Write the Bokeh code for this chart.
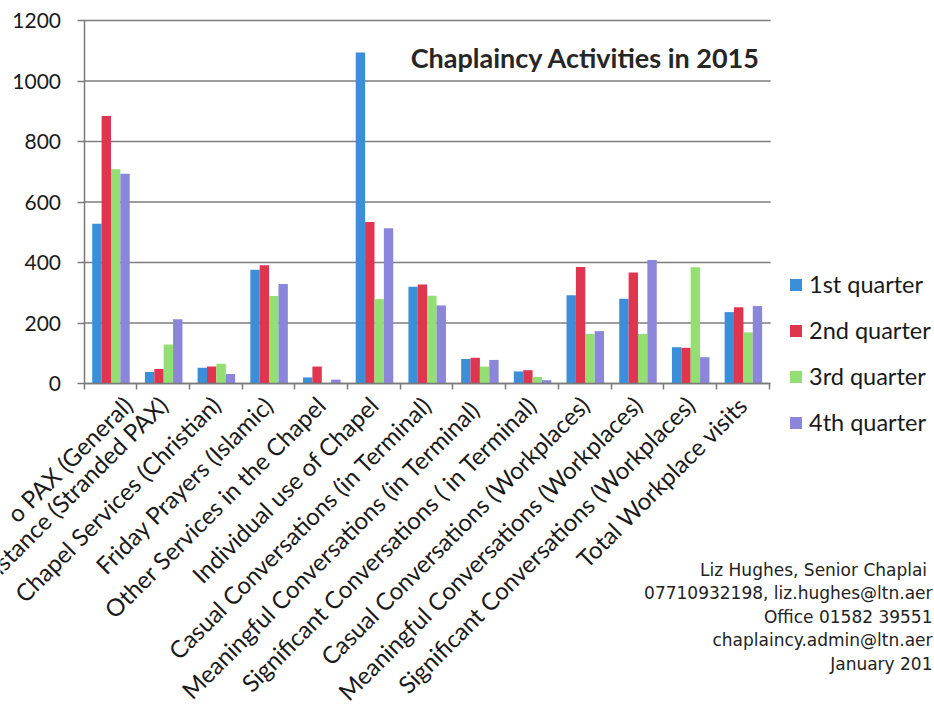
import math
from bokeh.plotting import figure
from bokeh.models import (ColumnDataSource, Range1d, FixedTicker, Legend, LegendItem, Label)
from bokeh.transform import dodge
from bokeh.embed import file_html
from bokeh.resources import INLINE

categories = [
    "o PAX (General)",
    "istance (Stranded PAX)",
    "Chapel Services (Christian)",
    "Friday Prayers (Islamic)",
    "Other Services in the Chapel",
    "Individual use of Chapel",
    "Casual Conversations (in Terminal)",
    "Meaningful Conversations  (in Terminal)",
    "Significant Conversations ( in Terminal)",
    "Casual Conversations (Workplaces)",
    "Meaningful Conversations (Workplaces)",
    "Significant Conversations (Workplaces)",
    "Total Workplace visits",
]
q1 = [528, 38, 52, 376, 20, 1094, 320, 81, 40, 292, 280, 120, 236]
q2 = [884, 48, 56, 391, 56, 534, 327, 85, 44, 385, 367, 118, 252]
q3 = [708, 129, 65, 289, 0, 279, 290, 56, 22, 164, 164, 384, 169]
q4 = [693, 212, 31, 329, 13, 513, 258, 78, 11, 173, 408, 87, 256]
series_names = ["1st quarter", "2nd quarter", "3rd quarter", "4th quarter"]
series_colors = ["#3b8fd9", "#e0354f", "#93df73", "#8b86d9"]
y_ticks = [0, 200, 400, 600, 800, 1000, 1200]
title_text = "Chaplaincy Activities in 2015"
footer_lines = [
    "Liz Hughes,  Senior Chaplai",
    "07710932198, liz.hughes@ltn.aer",
    "Office 01582 39551",
    "chaplaincy.admin@ltn.aer",
    "January 201",
]

# layout constants (pixels, canvas coordinates)
W, H = 934, 710
X0 = 83.5          # canvas x of the value axis
CAT_PX = 52.7      # width of one category
ZERO_Y = 383       # canvas y of the zero line
UNIT_PX = (383 - 20) / 1200

n = len(categories)
centers = [i + 0.5 for i in range(n)]
source = ColumnDataSource(dict(x=centers, q1=q1, q2=q2, q3=q3, q4=q4))

p = figure(width=W, height=H, output_backend="svg", toolbar_location=None,
           x_range=Range1d(-X0 / CAT_PX, (W - X0) / CAT_PX),
           y_range=Range1d(-(H - ZERO_Y) / UNIT_PX, ZERO_Y / UNIT_PX),
           min_border_left=0, min_border_right=0, min_border_top=0,
           min_border_bottom=0)
p.outline_line_color = None
p.background_fill_color = "white"
p.border_fill_color = "white"
p.xgrid.grid_line_color = None
p.ygrid.grid_line_color = None

# horizontal gridlines over the category span
p.segment(x0=[0] * len(y_ticks), x1=[n + 0.03] * len(y_ticks), y0=y_ticks, y1=y_ticks,
          line_color="#7d7d7d", line_width=1.5)

bar_w = 0.178
offsets = [-1.5 * bar_w, -0.5 * bar_w, 0.5 * bar_w, 1.5 * bar_w]
renderers = []
for key, off, col in zip(["q1", "q2", "q3", "q4"], offsets, series_colors):
    r = p.vbar(x=dodge("x", off + 0.012), top=key, width=bar_w, source=source,
               fill_color=col, line_color=None)
    renderers.append(r)

# category axis fixed at zero
xa = p.xaxis[0]
xa.fixed_location = 0
xa.bounds = (0, n)
xa.ticker = FixedTicker(ticks=centers, minor_ticks=list(range(n + 1)))
xa.major_label_overrides = {c: lab for c, lab in zip(centers, categories)}
xa.major_label_orientation = math.pi / 4
xa.major_tick_line_color = None
xa.minor_tick_line_color = "#7a7a7a"
xa.minor_tick_line_width = 1.5
xa.minor_tick_out = 6
xa.minor_tick_in = 0
xa.axis_line_color = "#7a7a7a"
xa.axis_line_width = 1.5
xa.major_label_text_font = "Lato"
xa.major_label_text_font_size = "24px"
xa.major_label_text_color = "#1a1a1a"
xa.major_label_standoff = 11

# value axis fixed at x = 0
ya = p.yaxis[0]
ya.fixed_location = 0
ya.bounds = (0, 1200)
ya.ticker = FixedTicker(ticks=y_ticks)
ya.minor_tick_line_color = None
ya.major_tick_line_color = "#7a7a7a"
ya.major_tick_line_width = 1.5
ya.major_tick_out = 7
ya.major_tick_in = 0
ya.axis_line_color = "#7a7a7a"
ya.axis_line_width = 1.5
ya.major_label_text_font = "Lato"
ya.major_label_text_font_size = "21px"
ya.major_label_text_color = "#1a1a1a"
ya.major_label_standoff = 16

# title inside plot
p.add_layout(Label(x=(760 - X0) / CAT_PX, y=(ZERO_Y - 57) / UNIT_PX, text=title_text,
                   text_align="right", text_baseline="middle", text_font="Lato",
                   text_font_style="bold", text_font_size="27px", text_color="#262626"))

# legend
legend = Legend(items=[LegendItem(label=nm, renderers=[r]) for nm, r in zip(series_names, renderers)],
                location=(788, 274), glyph_width=15, glyph_height=15, label_height=28,
                spacing=18, padding=0, margin=0, border_line_color=None,
                background_fill_alpha=0, label_text_font="Lato",
                label_text_font_size="23.5px", label_text_color="#1a1a1a",
                label_standoff=6)
p.add_layout(legend, "center")

# footer text
for i, line in enumerate(footer_lines):
    py = 569 + i * 23.5
    p.add_layout(Label(x=(932 - X0) / CAT_PX, y=(ZERO_Y - py) / UNIT_PX, text=line,
                       text_align="right", text_baseline="middle", text_font="DejaVu Sans",
                       text_font_size="17px", text_color="#222222"))

open("out.html", "w").write(file_html(p, INLINE))
